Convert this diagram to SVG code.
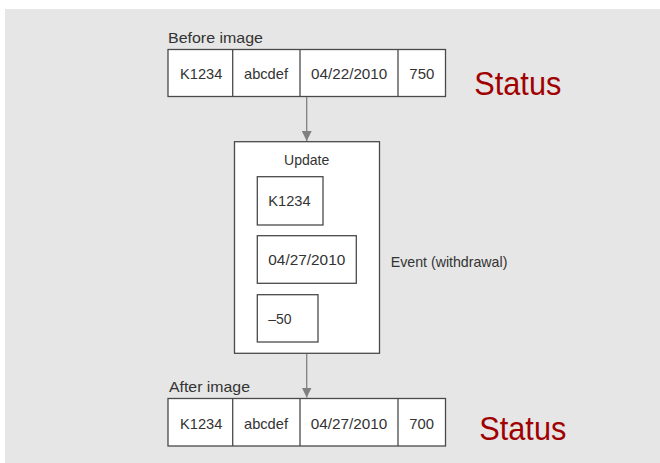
<svg xmlns="http://www.w3.org/2000/svg" width="660" height="463" viewBox="0 0 660 463">
  <style>
    .bg { fill: #e6e6e6; }
    .box { fill: #ffffff; stroke: #4a4a4a; stroke-width: 1.3; }
    .t { font-family: "Liberation Sans", Arial, Helvetica, sans-serif; font-size: 14.5px; fill: #333333; }
    .status { font-family: "Liberation Sans", Tahoma, sans-serif; font-size: 33px; fill: #a00000; }
    .conn { stroke: #808080; stroke-width: 1.3; fill: none; }
  </style>
  <defs>
    <marker id="arrow" viewBox="0 0 10 10" refX="10" refY="5" markerWidth="10" markerHeight="10" markerUnits="userSpaceOnUse" orient="auto">
      <path d="M0,0 L10,5 L0,10 Z" fill="#808080"/>
    </marker>
  </defs>

  <rect class="bg" x="5" y="9" width="655" height="454"/>

  <!-- record before the update -->
  <g id="before-image">
    <text class="t" x="168" y="43" textLength="95" lengthAdjust="spacingAndGlyphs">Before image</text>
    <rect class="box" x="168" y="49.5" width="277.5" height="47"/>
    <line class="box" x1="232.7" y1="49.5" x2="232.7" y2="96.5"/>
    <line class="box" x1="300" y1="49.5" x2="300" y2="96.5"/>
    <line class="box" x1="398" y1="49.5" x2="398" y2="96.5"/>
    <text class="t" x="180" y="79" textLength="42.3" lengthAdjust="spacingAndGlyphs">K1234</text>
    <text class="t" x="244" y="79" textLength="44" lengthAdjust="spacingAndGlyphs">abcdef</text>
    <text class="t" x="311" y="79" textLength="76.3" lengthAdjust="spacingAndGlyphs">04/22/2010</text>
    <text class="t" x="409.3" y="79" textLength="25" lengthAdjust="spacingAndGlyphs">750</text>
  </g>
  <g id="status-before">
    <text class="status" x="474.3" y="95" textLength="87" lengthAdjust="spacingAndGlyphs">Status</text>
  </g>

  <!-- update event -->
  <g id="update">
    <rect class="box" x="234.5" y="141.7" width="145" height="211.6"/>
    <text class="t" x="284" y="165" textLength="45.3" lengthAdjust="spacingAndGlyphs">Update</text>
    <rect class="box" x="257.3" y="176.7" width="65.7" height="48.3"/>
    <text class="t" x="268.3" y="206" textLength="42.3" lengthAdjust="spacingAndGlyphs">K1234</text>
    <rect class="box" x="257.3" y="235.7" width="99" height="47.6"/>
    <text class="t" x="268.3" y="265" textLength="77" lengthAdjust="spacingAndGlyphs">04/27/2010</text>
    <rect class="box" x="257.3" y="294.7" width="60.7" height="47.3"/>
    <text class="t" x="268.3" y="324.3" textLength="23.3" lengthAdjust="spacingAndGlyphs">–50</text>
  </g>
  <g id="event-label">
    <text class="t" x="390.7" y="266.7" textLength="116.7" lengthAdjust="spacingAndGlyphs">Event (withdrawal)</text>
  </g>

  <!-- record after the update -->
  <g id="after-image">
    <text class="t" x="169" y="392.3" textLength="81" lengthAdjust="spacingAndGlyphs">After image</text>
    <rect class="box" x="168" y="398.5" width="277.5" height="47.5"/>
    <line class="box" x1="232.7" y1="398.5" x2="232.7" y2="446"/>
    <line class="box" x1="300" y1="398.5" x2="300" y2="446"/>
    <line class="box" x1="398" y1="398.5" x2="398" y2="446"/>
    <text class="t" x="180" y="428.7" textLength="42.3" lengthAdjust="spacingAndGlyphs">K1234</text>
    <text class="t" x="244" y="428.7" textLength="44" lengthAdjust="spacingAndGlyphs">abcdef</text>
    <text class="t" x="310.7" y="428.7" textLength="76.6" lengthAdjust="spacingAndGlyphs">04/27/2010</text>
    <text class="t" x="409.3" y="428.7" textLength="24.7" lengthAdjust="spacingAndGlyphs">700</text>
  </g>
  <g id="status-after">
    <text class="status" x="479.3" y="440" textLength="87" lengthAdjust="spacingAndGlyphs">Status</text>
  </g>

  <!-- connectors -->
  <g id="connectors">
    <line class="conn" x1="306.7" y1="97" x2="306.7" y2="141" marker-end="url(#arrow)"/>
    <line class="conn" x1="306.7" y1="354" x2="306.7" y2="397.5" marker-end="url(#arrow)"/>
  </g>
</svg>
